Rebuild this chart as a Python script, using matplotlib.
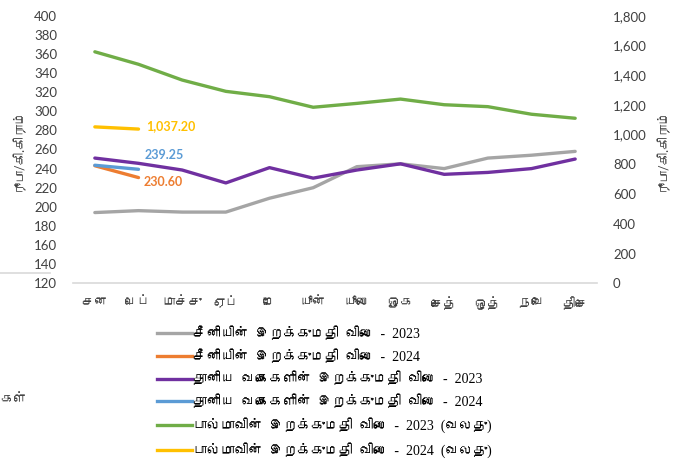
import matplotlib
matplotlib.use('Agg')
import matplotlib.pyplot as plt
from matplotlib import font_manager
from matplotlib.ft2font import FT2Font
from matplotlib.lines import Line2D

# months (Tamil short names)
months = ['சன', 'பெப்', 'மாச்சு', 'ஏப்', 'மே', 'யூன்', 'யூலை', 'ஓக', 'செத்', 'ஒத்', 'நவெ', 'திசெ']

sugar_2023 = [194, 196, 194.5, 194.5, 209, 220, 242, 245, 240, 251, 254, 258]
sugar_2024 = [243, 230.60]
grain_2023 = [251, 245.5, 238.5, 225, 241, 230, 238.5, 245, 234, 236, 240, 250]
grain_2024 = [243.5, 239.25]
palm_2023 = [1557, 1473, 1367, 1291, 1255, 1184, 1210, 1239, 1201, 1188, 1137, 1110]
palm_2024 = [1052, 1037.20]

names = ['சீனியின்  இறக்குமதி  விலை  -  2023',
         'சீனியின்  இறக்குமதி  விலை  -  2024',
         'தானிய  வகைகளின்  இறக்குமதி  விலை  -  2023',
         'தானிய  வகைகளின்  இறக்குமதி  விலை  -  2024',
         'பால்மாவின்  இறக்குமதி  விலை  -  2023  (வலது)',
         'பால்மாவின்  இறக்குமதி  விலை  -  2024  (வலது)']
colors = ['#A5A5A5', '#ED7D31', '#7030A0', '#5B9BD5', '#70AD47', '#FFC000']
y_title = 'ரூபா/கி.கிராம்'


# look for any installed font that has Tamil letters
def tamil_font():
    for f in font_manager.fontManager.ttflist:
        try:
            if FT2Font(f.fname).get_char_index(0x0B9A):
                return f.name
        except Exception:
            pass
    return None


tf = tamil_font()
sans = ['Lato'] + ([tf] if tf else []) + ['DejaVu Sans']
serif = ['Liberation Serif'] + ([tf] if tf else []) + ['DejaVu Sans']

fig = plt.figure(figsize=(6.83, 4.61), dpi=100)
ax = fig.add_axes([0.1069, 0.3855, 0.7672, 0.5805])
ax2 = ax.twinx()

x = list(range(len(months)))
lw = 2.4
ax.plot(x, sugar_2023, color=colors[0], lw=lw, solid_capstyle='round')
ax.plot(x[:2], sugar_2024, color=colors[1], lw=lw, solid_capstyle='round')
ax.plot(x, grain_2023, color=colors[2], lw=lw, solid_capstyle='round')
ax.plot(x[:2], grain_2024, color=colors[3], lw=lw, solid_capstyle='round')
ax2.plot(x, palm_2023, color=colors[4], lw=lw, solid_capstyle='round')
ax2.plot(x[:2], palm_2024, color=colors[5], lw=lw, solid_capstyle='round')

ax.set_xlim(-0.5, 11.5)
ax.set_ylim(120, 400)
ax.set_yticks(range(120, 401, 20))
ax2.set_ylim(0, 1800)
ax2.set_yticks(range(0, 1801, 200))
ax2.set_yticklabels([f'{v:,}' for v in range(0, 1801, 200)])

ax.set_xticks(x)
ax.set_xticklabels(months, family=serif, fontsize=9.5, color='#404040')

for a in (ax, ax2):
    for s in a.spines.values():
        s.set_visible(False)
    a.tick_params(length=0)
ax.spines['bottom'].set_visible(True)
ax.spines['bottom'].set_color('#D9D9D9')
ax.spines['bottom'].set_linewidth(1.2)

ax.tick_params(axis='y', pad=11.5, labelsize=9.5, labelcolor='#404040')
ax.tick_params(axis='x', pad=10)
ax2.tick_params(axis='y', pad=11.5, labelsize=9.5, labelcolor='#404040')
for t in ax.get_yticklabels() + ax2.get_yticklabels():
    t.set_family(sans)

ax.set_ylabel(y_title, family=sans, fontsize=9, color='#404040', labelpad=7)
ax2.set_ylabel(y_title, family=sans, fontsize=9, color='#404040', labelpad=6)

# data labels on the last 2024 points
ax2.annotate(f'{palm_2024[1]:,.2f}', (1, palm_2024[1]), xytext=(8, 3), textcoords='offset pixels',
             color=colors[5], fontweight='bold', fontsize=9, family=sans, va='center')
ax.annotate(f'{grain_2024[1]:.2f}', (1, grain_2024[1]), xytext=(6, 14), textcoords='offset pixels',
            color=colors[3], fontweight='bold', fontsize=9, family=sans, va='center')
ax.annotate(f'{sugar_2024[1]:.2f}', (1, sugar_2024[1]), xytext=(5, -4), textcoords='offset pixels',
            color=colors[1], fontweight='bold', fontsize=9, family=sans, va='center')

handles = [Line2D([], [], color=c, lw=lw) for c in colors]
fig.legend(handles, names, loc='upper left', bbox_to_anchor=(0.23, 0.292), frameon=False,
           prop={'family': serif, 'size': 10}, handlelength=2.5, handletextpad=0.1,
           labelspacing=0.6, borderaxespad=0, borderpad=0)

# bits of neighbouring content cut into the picture
fig.add_artist(Line2D([0, 50 / 683], [1 - 273 / 461] * 2, color='#D9D9D9', lw=1.2))
fig.text(0, 1 - 400 / 461, 'கள்', family=serif, fontsize=9.5, va='center', color='#404040')

fig.savefig('out.png', dpi=100)
